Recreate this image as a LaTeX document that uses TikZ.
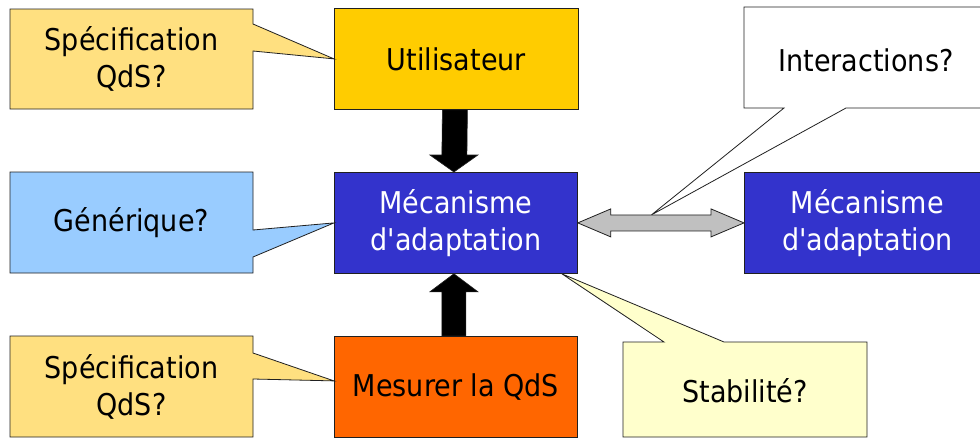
\documentclass[tikz,border=0pt]{standalone}
\usepackage{fontspec}
\setmainfont{DejaVu Sans Condensed}
\usetikzlibrary{calc}

\definecolor{calloutyellow}{HTML}{FFE080}
\definecolor{userfill}{HTML}{FFCC00}
\definecolor{mechblue}{HTML}{3333CC}
\definecolor{genblue}{HTML}{99CCFF}
\definecolor{measorange}{HTML}{FF6600}
\definecolor{stabyellow}{HTML}{FFFFCC}
\definecolor{linkgray}{HTML}{C0C0C0}
\definecolor{edgecol}{HTML}{202020}

\begin{document}
\begin{tikzpicture}[x=1pt,y=-1pt,
  outline/.style={draw=edgecol, line width=0.8pt, line join=miter},
  labelfont/.style={font=\fontsize{30}{37}\selectfont},
  box/.style={outline, labelfont, rectangle, anchor=north west, inner sep=0pt,
              minimum width=#1, minimum height=101pt, align=center},
  ctext/.style={labelfont, align=center, inner sep=0pt},
  blkarrow/.style={fill=black, draw=edgecol, line width=0.6pt},
  linkarrow/.style={outline, fill=linkgray}
]
% page area
\fill[white] (0,0) rectangle (980,439);
\useasboundingbox (0,0) rectangle (980,439);

% main blocks
\node[box=244pt, fill=userfill] (user) at (334,8) {Utilisateur};
\node[box=243pt, fill=mechblue, text=white] (mech) at (334,172) {Mécanisme\\d\textquotesingle adaptation};
\node[box=246pt, fill=mechblue, text=white] (peer) at (744,172) {Mécanisme\\d\textquotesingle adaptation};
\node[box=243pt, fill=measorange] (measure) at (334,336) {Mesurer la QdS};

% callout tips
\coordinate (tipuser) at (user.west);
\coordinate (tipgen) at (mech.west);
\coordinate (tipmeas) at ($(measure.west)+(0,-6)$);
\coordinate (tipstab) at ($(mech.south east)+(-16,0)$);
\coordinate (tipint) at ($(mech.east)!0.443!(peer.west)+(0,-8)$);

% callouts
\draw[outline, fill=calloutyellow] (10,9) -- (253,9) -- (253,24) -- (tipuser)
  -- (253,51) -- (253,109) -- (10,109) -- cycle;
\draw[outline, fill=genblue] (10,172) -- (253,172) -- (253,230) -- (tipgen)
  -- (253,257) -- (253,273) -- (10,273) -- cycle;
\draw[outline, fill=calloutyellow] (10,336) -- (253,336) -- (253,353) -- (tipmeas)
  -- (253,379) -- (253,437) -- (10,437) -- cycle;
\draw[outline, fill=white] (744,7) -- (990,7) -- (990,108) -- (846,108) -- (tipint)
  -- (784,108) -- (744,108) -- cycle;
\draw[outline, fill=stabyellow] (623,342) -- (664,342) -- (tipstab) -- (724,342)
  -- (867,342) -- (867,437) -- (623,437) -- cycle;

% block arrows between the blocks
\draw[blkarrow] ($(user.south)+(-14,0)$) -- ($(user.south)+(11,0)$)
  -- ($(mech.north)+(11,-17)$) -- ($(mech.north)+(22,-17)$) -- ($(mech.north)+(-2,0)$)
  -- ($(mech.north)+(-26,-17)$) -- ($(mech.north)+(-14,-17)$) -- cycle;
\draw[blkarrow] ($(measure.north)+(-14,0)$) -- ($(measure.north)+(10,0)$)
  -- ($(mech.south)+(10,18)$) -- ($(mech.south)+(22,18)$) -- ($(mech.south)+(-2,0)$)
  -- ($(mech.south)+(-26,18)$) -- ($(mech.south)+(-14,18)$) -- cycle;
\draw[linkarrow] (mech.east) -- ($(mech.east)+(33,-14)$) -- ($(mech.east)+(33,-8)$)
  -- ($(peer.west)+(-33,-8)$) -- ($(peer.west)+(-33,-14)$) -- (peer.west)
  -- ($(peer.west)+(-33,14)$) -- ($(peer.west)+(-33,8)$)
  -- ($(mech.east)+(33,8)$) -- ($(mech.east)+(33,14)$) -- cycle;

% callout texts
\node[ctext] (spec) at (131.5,59) {Spécification\\QdS?};
\node[ctext] (gen) at (131.5,222.5) {Générique?};
\node[ctext] (specm) at (131.5,387) {Spécification\\QdS?};
\node[ctext] (inter) at (866,60) {Interactions?};
\node[ctext] (stab) at (745,391) {Stabilité?};
\end{tikzpicture}
\end{document}
